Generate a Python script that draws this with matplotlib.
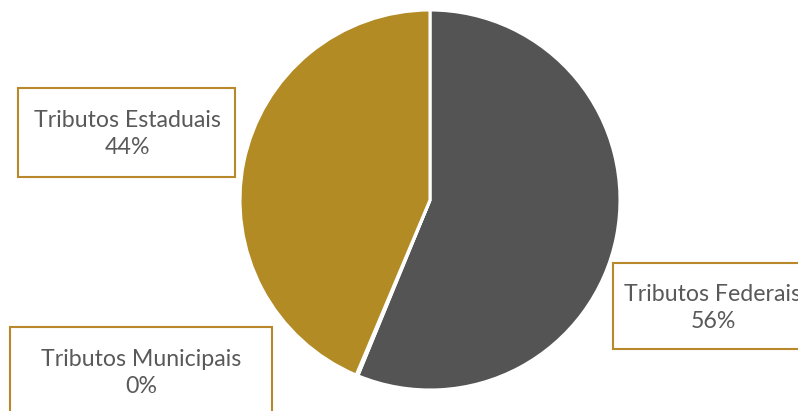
import matplotlib
matplotlib.use("Agg")
import matplotlib.pyplot as plt
from matplotlib.patches import Rectangle
from matplotlib.transforms import Affine2D

# data
categories = ["Tributos Federais", "Tributos Municipais", "Tributos Estaduais"]
values = [56.2, 0.15, 43.65]
colors = ["#545454", "#B38B25", "#B38B25"]

BOX_EDGE = "#B8882A"
TEXT_COLOR = "#595959"

plt.rcParams["font.family"] = ["Lato", "DejaVu Sans"]

fig = plt.figure(figsize=(7.98, 4.11), dpi=100)
ax = fig.add_axes([0, 0, 1, 1])

wedges, _ = ax.pie(values, colors=colors, startangle=90, counterclock=False,
                   center=(430, 200), radius=190, frame=True,
                   wedgeprops={"edgecolor": "white", "linewidth": 2.2})
# y axis is inverted (pixel coords), so flip the pie back
for w in wedges:
    w.set_transform(Affine2D().scale(1, -1).translate(0, 400) + ax.transData)
ax.set_xlim(0, 798)
ax.set_ylim(411, 0)
ax.set_aspect("equal")
ax.axis("off")

total = sum(values)
# label boxes: (x, y, w, h) in pixels, text centre
boxes = {
    "Tributos Estaduais": ((18, 88, 217, 89), (127, 134)),
    "Tributos Federais": ((613, 263, 200, 86), (713, 308)),
    "Tributos Municipais": ((10, 327, 262, 100), (141, 373)),
}
for cat, val in zip(categories, values):
    (bx, by, bw, bh), (tx, ty) = boxes[cat]
    ax.add_patch(Rectangle((bx, by), bw, bh, facecolor="white",
                           edgecolor=BOX_EDGE, linewidth=1.5, zorder=3))
    ax.text(tx, ty, f"{cat}\n{round(val / total * 100):.0f}%", ha="center",
            va="center", fontsize=16.7, color=TEXT_COLOR, linespacing=1.3, zorder=4)

fig.savefig("out.png", dpi=100)
